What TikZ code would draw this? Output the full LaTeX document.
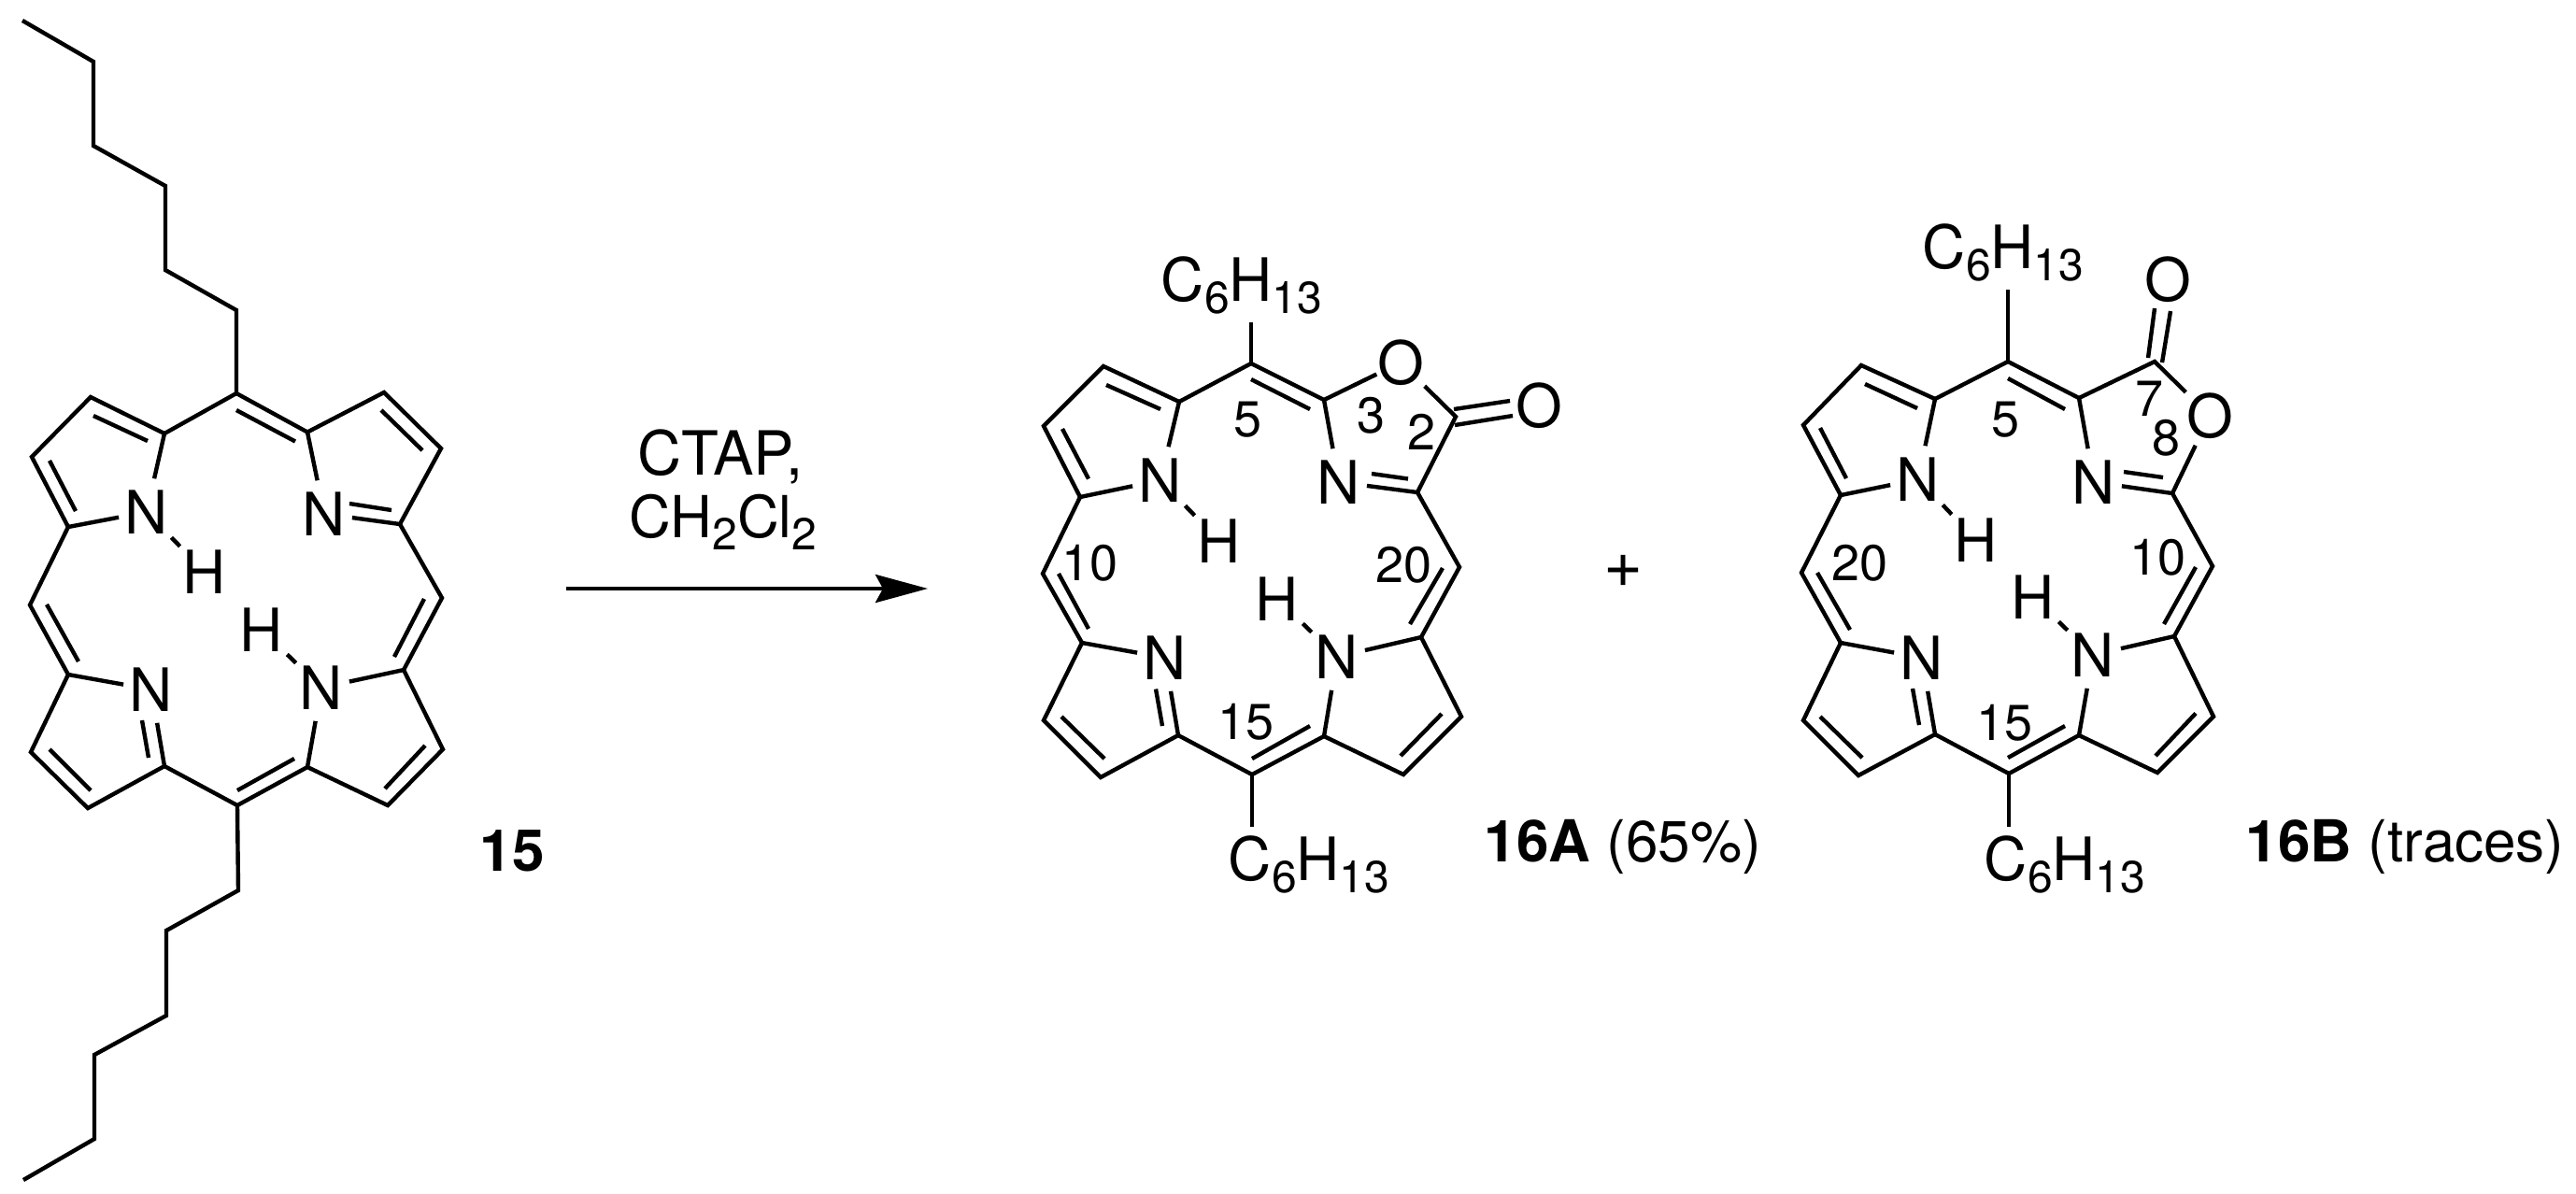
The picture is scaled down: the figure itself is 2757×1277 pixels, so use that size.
\documentclass[tikz,border=0pt]{standalone}
\usepackage{fontspec}
\setmainfont{TeX Gyre Heros}
\usetikzlibrary{arrows.meta}
\newcommand\lo[1]{\raisebox{-3.4pt}{\fontsize{12}{13}\selectfont #1}}
\tikzset{
  bond/.style={line width=1.1pt,line cap=butt,line join=miter},
  nh/.style={bond,shorten <=9.5pt,shorten >=9.5pt},
  atom/.style={inner xsep=1.5pt,inner ysep=3pt,font=\fontsize{16}{18}\selectfont,text height=11.5pt,text depth=0pt},
  oatom/.style={atom,inner xsep=0pt,inner ysep=2pt},
  num/.style={inner sep=0pt,font=\fontsize{13.5}{15}\selectfont,text height=9.7pt,text depth=0pt},
  chain/.style={anchor=base west,inner sep=2pt,font=\fontsize{16}{18}\selectfont},
  txt/.style={inner sep=0pt,font=\fontsize{15.5}{17}\selectfont},
}
\newcommand\pts[1]{\foreach \n/\px/\py in {#1}{\coordinate (\n) at (\px,\py);}}
\newcommand\inner[1]{\foreach \n/\xa/\ya/\xb/\yb in {#1}{\coordinate (\n s) at (\xa,\ya);\coordinate (\n e) at (\xb,\yb);\draw[bond] (\n s) -- (\n e);}}
\begin{document}
\begin{tikzpicture}[x=0.25pt,y=-0.25pt]
\useasboundingbox (0,0) rectangle (2757,1277);
% ---------- 15
\pts{pc1/24/22,pc2/100/66,pc3/100/156,pc4/177/199,pc5/177/289,pc6/253/332,
pa1/176/464,pb1/97/425,pb2/34/489,pa2/73/564,pm5/253/421,pa3/329/462.5,pb3/411/420,pb4/472/480,pa4/428/561,
pmr/473/640,pa5/432/717,pb5/474/802,pb6/415/862,pa6/329/821,pmb/254/862,pa7/176/820,pb7/94/865,pb8/33/805,pa8/73/722,pml/32/647.5,
pd1/255/953,pd2/178/996,pd3/178/1087,pd4/101/1129,pd5/101/1219,pd6/25/1263}
\node[atom] (pN1) at (157,548) {N};
\node[atom] (pN2) at (347,550) {N};
\node[atom] (pN3) at (344,736) {N};
\node[atom] (pN4) at (162,738) {N};
\node[atom] (pH1) at (219,612) {H};
\node[atom] (pH3) at (280,674) {H};
\draw[bond] (pc1)--(pc2)--(pc3)--(pc4)--(pc5)--(pc6)--(pm5);
\draw[bond] (pmb)--(pd1)--(pd2)--(pd3)--(pd4)--(pd5)--(pd6);
\draw[bond] (pN1)--(pa1)--(pb1)--(pb2)--(pa2)--(pN1);
\draw[bond] (pa1)--(pm5)--(pa3)--(pb3)--(pb4)--(pa4)--(pN2)--(pa3);
\draw[bond] (pa2)--(pml)--(pa8)--(pb8)--(pb7)--(pa7)--(pmb)--(pa6)--(pb6)--(pb5)--(pa5)--(pmr)--(pa4);
\draw[bond] (pa8)--(pN4)--(pa7);
\draw[bond] (pa5)--(pN3)--(pa6);
\draw[nh] (pN1.center)--(pH1.center);
\draw[nh] (pN3.center)--(pH3.center);
\inner{pi1/100/445/158/472,pi2/53/493/81/547,pi3/253/439/316/472.5,pi4/408/439/452/482,pi5/374/539/419/546,
pi6/454/641/422/703,pi7/455/798/412/844,pi8/315/812/254/846,pi9/152/771/159/811,pi10/97/846/53/802,pi11/50/647/84/708}
\node[txt,font=\fontsize{15.5}{17}\bfseries\selectfont] (l15) at (548,911) {15};
% ---------- reagents and arrow
\node[txt,font=\fontsize{16.3}{18}\selectfont] (rg1) at (771,489) {CTAP,};
\node[txt,anchor=base] (rg2) at (774,575) {CH\lo{2}Cl\lo{2}};
\coordinate (arS) at (606,630);
\coordinate (arE) at (993,630);
\draw[bond,-{Stealth[length=14pt,width=7.5pt,inset=2pt]}] (arS)--(arE);
\node[txt,font=\fontsize{18}{20}\selectfont] (plus) at (1737,611) {+};
% ---------- 16A
\pts{am5/1339/389,aa1/1262/430,ab1/1181/392,ab2/1117/456,aa2/1156/532,aa3/1417/428,ac2/1558/446,aa4/1517/527,
amr/1562/607,aa5/1521/682,ab5/1564/767,ab6/1502/829,aa6/1417/788,am15/1340/829,aa7/1261/787,ab7/1178/832,ab8/1117/771,aa8/1158/688,aml/1116/614,
ao2a/1556/438,ao2b/1616/429,ao2c/1557/455,ao2d/1619/445}
\node[atom] (aN1) at (1242,514) {N};
\node[atom] (aN2) at (1433,516) {N};
\node[atom] (aN3) at (1431,703) {N};
\node[atom] (aN4) at (1247,704) {N};
\node[atom] (aH1) at (1305,579) {H};
\node[atom] (aH3) at (1367,641) {H};
\node[oatom] (aO1) at (1499,388) {O};
\node[oatom] (aO2) at (1647,434) {O};
\node[chain] (aT) at (1234,322) {C\lo{6}H\lo{13}};
\node[chain] (aB) at (1306,942) {C\lo{6}H\lo{13}};
\draw[bond] (am5)--(am5|-aT.south);
\draw[bond] (am15)--(am15|-aB.north);
\draw[bond] (aN1)--(aa1)--(ab1)--(ab2)--(aa2)--(aN1);
\draw[bond] (aa1)--(am5)--(aa3)--(aN2)--(aa4)--(ac2)--(aO1)--(aa3);
\draw[bond] (aa2)--(aml)--(aa8)--(ab8)--(ab7)--(aa7)--(am15)--(aa6)--(ab6)--(ab5)--(aa5)--(amr)--(aa4);
\draw[bond] (aa8)--(aN4)--(aa7);
\draw[bond] (aa5)--(aN3)--(aa6);
\draw[nh] (aN1.center)--(aH1.center);
\draw[nh] (aN3.center)--(aH3.center);
\draw[bond] (ao2a)--(ao2b);
\draw[bond] (ao2c)--(ao2d);
\inner{ai1/1242/438/1184/412,ai2/1165/512.5/1137/459,ai3/1339/406/1402/438,ai4/1468/507/1507/512.5,
ai5/1544/608/1509/668,ai6/1543/764/1499/809,ai7/1402/777/1340/812,ai8/1237/737.5/1244/777,ai9/1182/812/1136/767,ai10/1165/673/1133/614}
\node[num] (an5) at (1335,448) {5};
\node[num] (an3) at (1467,444) {3};
\node[num] (an2) at (1521,462) {2};
\node[num] (an10) at (1166,602) {10};
\node[num] (an20) at (1502,604) {20};
\node[num] (an15) at (1333,772) {15};
\node[txt,anchor=base west] (al) at (1588,922) {\textbf{16A} (65\%)};
% ---------- 16B
\pts{bm5/2149/387,ba1/2071/427,bb1/1992/391,bb2/1930/455,ba2/1970/530,ba3/2225/426,bc7/2306/387,bc8/2325/528,
bmr/2368/606,ba5/2327/681,bb5/2369/767,bb6/2309/827,ba6/2225/787,bm15/2150/828,ba7/2071/786,bb7/1989/830,bb8/1930/771,ba8/1970/688,bml/1928/613,
bo1a/2299/383,bo1b/2306/330,bo1c/2314/388,bo1d/2323/333}
\node[atom] (bN1) at (2053,513) {N};
\node[atom] (bN2) at (2241,516) {N};
\node[atom] (bN3) at (2240,701) {N};
\node[atom] (bN4) at (2057,704) {N};
\node[atom] (bH1) at (2115,578) {H};
\node[atom] (bH3) at (2176,639) {H};
\node[oatom] (bO1) at (2320,299) {O};
\node[oatom] (bO2) at (2365,445) {O};
\node[chain] (bT) at (2049,287) {C\lo{6}H\lo{13}};
\node[chain] (bB) at (2115,942) {C\lo{6}H\lo{13}};
\draw[bond] (bm5)--(bm5|-bT.south);
\draw[bond] (bm15)--(bm15|-bB.north);
\draw[bond] (bN1)--(ba1)--(bb1)--(bb2)--(ba2)--(bN1);
\draw[bond] (ba1)--(bm5)--(ba3)--(bN2)--(bc8)--(bO2)--(bc7)--(ba3);
\draw[bond] (ba2)--(bml)--(ba8)--(bb8)--(bb7)--(ba7)--(bm15)--(ba6)--(bb6)--(bb5)--(ba5)--(bmr)--(bc8);
\draw[bond] (ba8)--(bN4)--(ba7);
\draw[bond] (ba5)--(bN3)--(ba6);
\draw[nh] (bN1.center)--(bH1.center);
\draw[nh] (bN3.center)--(bH3.center);
\draw[bond] (bo1a)--(bo1b);
\draw[bond] (bo1c)--(bo1d);
\inner{bi1/2052/437/1996/411,bi2/1976/512/1948/458,bi3/2149/405/2210/438,bi4/2273/505/2315/511,
bi5/2350/607/2316/668,bi6/2350/763.5/2307/809,bi7/2210/777/2149/811,bi8/2047/737/2054/776,bi9/1993/811/1948/767,bi10/1980/674/1945/613}
\node[num] (bn5) at (2146,448) {5};
\node[num] (bn7) at (2300,426) {7};
\node[num] (bn8) at (2318,468) {8};
\node[num] (bn20) at (1990,602) {20};
\node[num] (bn10) at (2309,596) {10};
\node[num] (bn15) at (2145,773) {15};
\node[txt,anchor=base west] (bl) at (2403,922) {\textbf{16B} (traces)};
\end{tikzpicture}
\end{document}
